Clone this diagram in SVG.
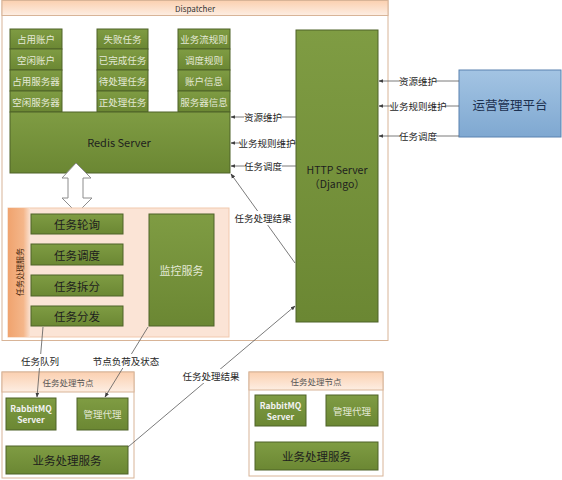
<svg xmlns="http://www.w3.org/2000/svg" width="562" height="480" viewBox="0 0 562 480">
<defs>
<linearGradient id="g" x1="0" y1="0" x2="0" y2="1"><stop offset="0" stop-color="#7f9c43"/><stop offset="1" stop-color="#6b8733"/></linearGradient>
<linearGradient id="hd" x1="0" y1="0" x2="0" y2="1"><stop offset="0" stop-color="#fbd0b0"/><stop offset="1" stop-color="#fdeee3"/></linearGradient>
<linearGradient id="bl" x1="0" y1="0" x2="0" y2="1"><stop offset="0" stop-color="#a3c4e3"/><stop offset="1" stop-color="#7fa8d1"/></linearGradient>
<linearGradient id="band" x1="0" y1="0" x2="1" y2="0"><stop offset="0" stop-color="#f0a36e"/><stop offset="0.7" stop-color="#f4b68a"/><stop offset="1" stop-color="#fae0cf"/></linearGradient>
<marker id="ar" viewBox="0 0 10 10" refX="9" refY="5" markerWidth="6" markerHeight="6" orient="auto"><path d="M0,1 L10,5 L0,9 z" fill="#404040"/></marker>
</defs>
<style>
.g{fill:url(#g);stroke:#4f6228;stroke-width:1}
.t{font-family:"Noto Sans CJK SC","Liberation Sans",sans-serif;text-anchor:middle;dominant-baseline:central}
.s{font-size:9.5px;fill:#e4e9d6}
.d{fill:#1e1e1e}
.ln{stroke:#595959;stroke-width:0.8;fill:none}
.lb{font-size:9.5px;fill:#262626}
</style>
<g id="dispatcher">
<rect x="2" y="0.5" width="386" height="340" fill="#fff" stroke="#d8b497"/>
<rect x="2" y="0.5" width="386" height="15" fill="url(#hd)" stroke="#d8b497"/>
<text class="t" x="195" y="8" font-size="8" fill="#333">Dispatcher</text>
</g>
<g id="col1">
<rect class="g" x="10" y="29" width="52" height="20"/><text class="t s" x="36" y="39">占用账户</text>
<rect class="g" x="10" y="49" width="52" height="21"/><text class="t s" x="36" y="60">空闲账户</text>
<rect class="g" x="10" y="70" width="52" height="21"/><text class="t s" x="36" y="81">占用服务器</text>
<rect class="g" x="10" y="91" width="52" height="21"/><text class="t s" x="36" y="102">空闲服务器</text>
</g>
<g id="col2">
<rect class="g" x="97" y="29" width="51" height="20"/><text class="t s" x="122.5" y="39">失败任务</text>
<rect class="g" x="97" y="49" width="51" height="21"/><text class="t s" x="122.5" y="60">已完成任务</text>
<rect class="g" x="97" y="70" width="51" height="21"/><text class="t s" x="122.5" y="81">待处理任务</text>
<rect class="g" x="97" y="91" width="51" height="21"/><text class="t s" x="122.5" y="102">正处理任务</text>
</g>
<g id="col3">
<rect class="g" x="178" y="29" width="52" height="20"/><text class="t s" x="204" y="39">业务流规则</text>
<rect class="g" x="178" y="49" width="52" height="21"/><text class="t s" x="204" y="60">调度规则</text>
<rect class="g" x="178" y="70" width="52" height="21"/><text class="t s" x="204" y="81">账户信息</text>
<rect class="g" x="178" y="91" width="52" height="21"/><text class="t s" x="204" y="102">服务器信息</text>
</g>
<g id="redis">
<rect class="g" x="10" y="112" width="220" height="61"/>
<text class="t d" x="119" y="142" font-size="11">Redis Server</text>
</g>
<g id="http">
<rect class="g" x="296" y="30" width="82" height="292"/>
<text class="t d" x="337" y="169" font-size="10.5">HTTP Server</text>
<text class="t d" x="337" y="183" font-size="10.5">（Django）</text>
</g>
<g id="ops">
<rect x="459" y="70" width="102" height="67" fill="url(#bl)" stroke="#5a82b0"/>
<text class="t" x="510" y="104" font-size="12.5" fill="#1b2f4f">运营管理平台</text>
</g>
<g id="blockarrow">
<path d="M76,163 L91,178 L83,178 L83,198 L92,198 L77,213 L62,198 L68,198 L68,178 L62,178 Z" fill="#fff" stroke="#8c8c8c" stroke-width="1"/>
</g>
<g id="taskservice">
<rect x="8" y="208" width="221" height="129" fill="#fbe4d6" stroke="#f1c9ae"/>
<rect x="8" y="208" width="22" height="129" fill="url(#band)"/>
<text class="t" x="19" y="272" font-size="8" fill="#4a2a10" transform="rotate(-90 19 272)">任务处理服务</text>
<rect class="g" x="31" y="214" width="92" height="20"/><text class="t d" x="77" y="224" font-size="11.5">任务轮询</text>
<rect class="g" x="31" y="244" width="92" height="21"/><text class="t d" x="77" y="254.5" font-size="11.5">任务调度</text>
<rect class="g" x="31" y="275" width="92" height="21"/><text class="t d" x="77" y="285.5" font-size="11.5">任务拆分</text>
<rect class="g" x="31" y="306" width="92" height="20"/><text class="t d" x="77" y="316" font-size="11.5">任务分发</text>
</g>
<g id="monitor">
<rect class="g" x="149" y="214" width="65" height="112"/>
<text class="t" x="181.5" y="270" font-size="11" fill="#e4e9d6">监控服务</text>
</g>
<g id="node1">
<rect x="2" y="372" width="132" height="106" fill="#fff" stroke="#d8b497"/>
<rect x="2" y="372" width="132" height="20" fill="url(#hd)" stroke="#d8b497"/>
<text class="t" x="68" y="382" font-size="8.5" fill="#555">任务处理节点</text>
<rect class="g" x="6" y="398" width="50" height="32"/>
<text class="t" x="31" y="408" font-size="8.5" font-weight="bold" fill="#f2f2f2">RabbitMQ</text>
<text class="t" x="31" y="419" font-size="8.5" font-weight="bold" fill="#f2f2f2">Server</text>
<rect class="g" x="77" y="398" width="51" height="32"/><text class="t s" x="102.5" y="414">管理代理</text>
<rect class="g" x="6" y="446" width="122" height="28"/><text class="t d" x="67" y="460" font-size="11.5">业务处理服务</text>
</g>
<g id="node2">
<rect x="249" y="372" width="134" height="104" fill="#fff" stroke="#d8b497"/>
<rect x="249" y="372" width="134" height="18" fill="url(#hd)" stroke="#d8b497"/>
<text class="t" x="316" y="381" font-size="8.5" fill="#555">任务处理节点</text>
<rect class="g" x="255" y="395" width="51" height="31"/>
<text class="t" x="280.5" y="405" font-size="8.5" font-weight="bold" fill="#f2f2f2">RabbitMQ</text>
<text class="t" x="280.5" y="416" font-size="8.5" font-weight="bold" fill="#f2f2f2">Server</text>
<rect class="g" x="326" y="395" width="52" height="31"/><text class="t s" x="352" y="410.5">管理代理</text>
<rect class="g" x="255" y="442" width="123" height="28"/><text class="t d" x="316.5" y="456" font-size="11.5">业务处理服务</text>
</g>
<g id="connectors">
<line class="ln" x1="459" y1="81" x2="379" y2="81" marker-end="url(#ar)"/>
<line class="ln" x1="459" y1="106" x2="379" y2="106" marker-end="url(#ar)"/>
<line class="ln" x1="459" y1="136" x2="379" y2="136" marker-end="url(#ar)"/>
<rect x="400" y="74" width="36" height="14" fill="#fff"/>
<rect x="391" y="99" width="54" height="14" fill="#fff"/>
<rect x="400" y="129" width="36" height="14" fill="#fff"/>
<text class="t lb" x="418" y="81">资源维护</text>
<text class="t lb" x="418" y="106">业务规则维护</text>
<text class="t lb" x="418" y="136">任务调度</text>
<line class="ln" x1="296" y1="117" x2="231" y2="117" marker-end="url(#ar)"/>
<line class="ln" x1="296" y1="143" x2="231" y2="143" marker-end="url(#ar)"/>
<line class="ln" x1="296" y1="166" x2="231" y2="166" marker-end="url(#ar)"/>
<rect x="244" y="110" width="38" height="14" fill="#fff"/>
<rect x="240" y="136" width="54" height="14" fill="#fff"/>
<rect x="244" y="159" width="38" height="14" fill="#fff"/>
<text class="t lb" x="263" y="117">资源维护</text>
<text class="t lb" x="267" y="143">业务规则维护</text>
<text class="t lb" x="263" y="166">任务调度</text>
<line class="ln" x1="295" y1="263" x2="231" y2="174" marker-end="url(#ar)"/>
<rect x="235" y="211" width="56" height="14" fill="#fff"/>
<text class="t lb" x="263" y="218">任务处理结果</text>
<line class="ln" x1="128" y1="447" x2="295" y2="306" marker-end="url(#ar)"/>
<rect x="184" y="369" width="54" height="14" fill="#fff"/>
<text class="t lb" x="211" y="376">任务处理结果</text>
<line class="ln" x1="43" y1="327" x2="37" y2="397" marker-end="url(#ar)"/>
<rect x="21" y="354" width="38" height="14" fill="#fff"/>
<text class="t lb" x="40" y="361">任务队列</text>
<line class="ln" x1="148" y1="327" x2="105" y2="397" marker-end="url(#ar)"/>
<rect x="94" y="354" width="64" height="14" fill="#fff"/>
<text class="t lb" x="126" y="361">节点负荷及状态</text>
</g>
</svg>
